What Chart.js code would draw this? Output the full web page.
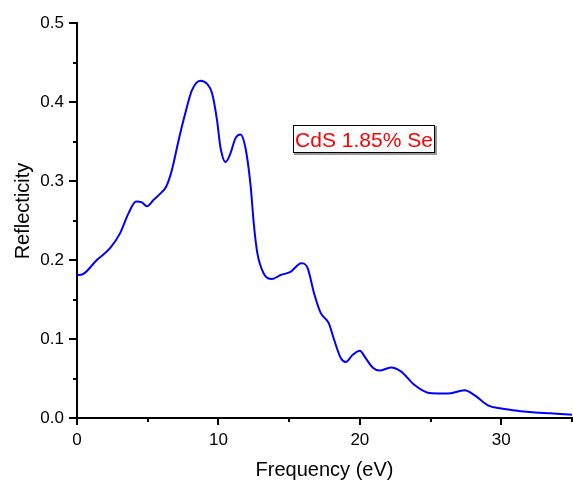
<!DOCTYPE html>
<html>
<head>
<meta charset="utf-8">
<script src="https://cdn.jsdelivr.net/npm/chart.js@4"></script>
<style>
html,body{margin:0;padding:0;background:#fff;}
#wrap{position:relative;width:573px;height:483px;}
</style>
</head>
<body>
<div id="wrap"><canvas id="c" width="573" height="483"></canvas></div>
<script>
const freq = [0,0.4,1.4,2.34,3.05,3.64,4.18,4.59,4.94,5.41,5.89,6.31,6.71,7.19,7.66,8.13,8.72,9.2,9.55,9.9,10.14,10.5,10.85,11.2,11.56,11.9,12.27,12.5,12.74,13.2,13.8,14.4,15.1,15.86,16.3,16.76,17.23,17.8,18.18,18.65,19.0,19.5,20.0,20.4,20.9,21.4,22.2,22.9,23.85,24.8,25.5,26.2,27.4,28.1,29.05,30.0,31.2,32.4,33.5,35.0];
const refl = [0.181,0.182,0.2,0.215,0.234,0.259,0.274,0.273,0.268,0.276,0.284,0.293,0.314,0.352,0.386,0.415,0.427,0.423,0.411,0.377,0.343,0.324,0.335,0.354,0.359,0.343,0.295,0.246,0.21,0.183,0.176,0.181,0.185,0.196,0.19,0.158,0.133,0.12,0.099,0.076,0.071,0.08,0.085,0.076,0.064,0.06,0.064,0.059,0.042,0.032,0.031,0.031,0.035,0.029,0.016,0.012,0.009,0.007,0.006,0.004];
const xTickLabels = ['0','10','20','30'];
const yTickLabels = ['0.0','0.1','0.2','0.3','0.4','0.5'];
const seriesLabel = 'CdS 1.85% Se';
const xTitle = 'Frequency (eV)';
const yTitle = 'Reflecticity';

const FONT = '"Liberation Sans", Arial, sans-serif';

const extras = {
  id: 'extras',
  afterDraw(chart) {
    const ctx = chart.ctx;
    const xs = chart.scales.x, ys = chart.scales.y;
    ctx.save();
    ctx.strokeStyle = '#000';
    ctx.lineWidth = 2;
    ctx.beginPath();
    for (let v = 5; v <= 35; v += 10) {
      const px = Math.round(xs.getPixelForValue(v));
      ctx.moveTo(px, ys.bottom); ctx.lineTo(px, ys.bottom + 4);
    }
    for (let v = 0.05; v < 0.5; v += 0.1) {
      const py = Math.round(ys.getPixelForValue(v));
      ctx.moveTo(xs.left, py); ctx.lineTo(xs.left - 4, py);
    }
    ctx.stroke();
    // y-axis title
    ctx.save();
    ctx.translate(29, 211);
    ctx.rotate(-Math.PI / 2);
    ctx.fillStyle = '#000';
    ctx.font = '20px ' + FONT;
    ctx.textAlign = 'center';
    ctx.textBaseline = 'alphabetic';
    ctx.fillText(yTitle, 0, 0);
    ctx.restore();
    // annotation box
    const bx = Math.round(xs.getPixelForValue(15.25)), by = Math.round(ys.getPixelForValue(0.371));
    const bw = 142, bh = 28;
    ctx.fillStyle = '#999';
    ctx.fillRect(bx + 1, by + 1, bw + 1, bh + 1);
    ctx.fillStyle = '#fff';
    ctx.fillRect(bx, by, bw, bh);
    ctx.strokeStyle = '#000';
    ctx.lineWidth = 1;
    ctx.strokeRect(bx + 0.5, by + 0.5, bw - 1, bh - 1);
    ctx.fillStyle = '#ff0000';
    ctx.font = '21px ' + FONT;
    ctx.textAlign = 'center';
    ctx.textBaseline = 'alphabetic';
    ctx.fillText(seriesLabel, bx + bw / 2, by + 22);
    ctx.restore();
  }
};

new Chart(document.getElementById('c'), {
  type: 'line',
  data: {
    datasets: [{
      label: seriesLabel,
      data: freq.map((f, i) => ({x: f, y: refl[i]})),
      borderColor: '#0000ff',
      borderWidth: 2,
      pointRadius: 0,
      fill: false,
      cubicInterpolationMode: 'monotone'
    }]
  },
  options: {
    responsive: false,
    animation: false,
    layout: {padding: {top: 23, right: 1, left: 0, bottom: 0}},
    plugins: {legend: {display: false}, tooltip: {enabled: false}},
    scales: {
      x: {
        type: 'linear', min: 0, max: 35,
        afterFit(s) { s.height = 65; },
        border: {display: true, color: '#000', width: 2},
        grid: {drawOnChartArea: false, drawTicks: true, tickLength: 7, color: '#000', lineWidth: 2},
        afterBuildTicks(s) { s.ticks = xTickLabels.map(t => ({value: Number(t)})); },
        ticks: {
          color: '#000', font: {family: FONT, size: 17}, padding: 5, maxRotation: 0,
          callback: (v) => xTickLabels.includes(String(v)) ? String(v) : ''
        },
        title: {display: true, text: xTitle, color: '#000', font: {family: FONT, size: 20}, padding: {top: 0, bottom: 1}}
      },
      y: {
        type: 'linear', min: 0, max: 0.5,
        afterFit(s) { s.width = 77; },
        border: {display: true, color: '#000', width: 2},
        grid: {drawOnChartArea: false, drawTicks: true, tickLength: 8, color: '#000', lineWidth: 2},
        afterBuildTicks(s) { s.ticks = yTickLabels.map(t => ({value: Number(t)})); },
        ticks: {
          color: '#000', font: {family: FONT, size: 17}, padding: 5,
          callback: (v) => Number(v).toFixed(1)
        },
        title: {display: false}
      }
    }
  },
  plugins: [extras]
});
</script>
</body>
</html>
